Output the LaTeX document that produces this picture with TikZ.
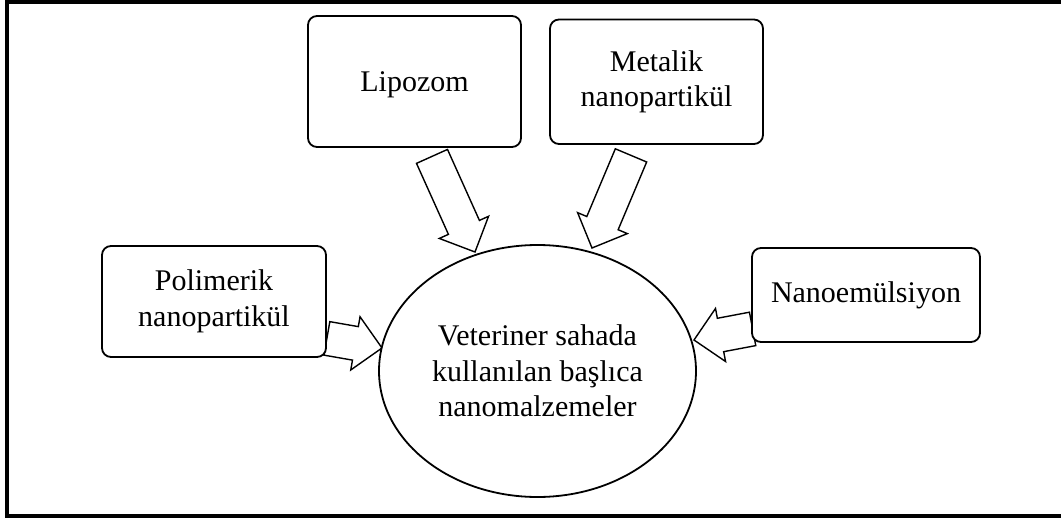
\documentclass[tikz,border=0pt]{standalone}
\usepackage{fontspec}
\setmainfont{Liberation Serif}
\usetikzlibrary{calc,shapes.geometric,backgrounds}
\newcommand\blockarr[2]{%
  \coordinate (T) at (#1);
  \coordinate (P) at (#2);
  \coordinate (H) at ($(P)!27pt!(T)$);
  \draw[barrow] ($(T)!17pt!90:(P)$) -- ($(H)!17pt!-90:(T)$) -- ($(H)!27pt!-90:(T)$) -- (P)
     -- ($(H)!27pt!90:(T)$) -- ($(H)!17pt!90:(T)$) -- ($(T)!17pt!-90:(P)$) -- cycle;
}
\begin{document}
\begin{tikzpicture}[x=1pt,y=-1pt,
  txt/.style={font=\fontsize{30}{35.5}\selectfont},
  box/.style={txt, draw, line width=1.8pt, rounded corners=9pt, fill=white, align=center, inner sep=0pt},
  oval/.style={txt, draw, ellipse, line width=1.8pt, fill=white, align=center, inner sep=0pt},
  barrow/.style={draw, line width=1.4pt, fill=white, line join=miter}]
\useasboundingbox (0,0) rectangle (1061,519);
\draw[line width=4.5pt] (7,2) rectangle (1075,516);

\node[box, minimum width=213pt, minimum height=131pt, text height=27pt, text depth=6.5pt] (lip) at (414.5,81.5) {Lipozom};
\node[box, minimum width=213pt, minimum height=124.5pt] (met) at (656.5,81.75) {Metalik\\nanopartikül};
\node[box, minimum width=224pt, minimum height=111pt] (pol) at (214,301.5) {Polimerik\\nanopartikül};
\node[box, minimum width=228pt, minimum height=94pt] (nano) at (866,295) {Nanoemülsiyon};
\node[oval, minimum width=317pt, minimum height=252pt] (c) at (537.5,371)
  {Veteriner sahada\\kullanılan başlıca\\nanomalzemeler};

\coordinate (lipT) at ($(lip.south)+(17.5,8.5)$);
\coordinate (lipP) at ($(c.center)+(-62.5,-119)$);
\coordinate (metT) at ($(met.south)+(-25.5,10.5)$);
\coordinate (metP) at ($(c.center)+(54.5,-123)$);
\coordinate (polT) at ($(pol.south east)+(0,-19.5)$);
\coordinate (polP) at ($(c.center)+(-155.5,-23)$);
\coordinate (nanoT) at ($(nano.south west)+(1.5,-14)$);
\coordinate (nanoP) at ($(c.center)+(156.5,-31)$);

\begin{pgfonlayer}{background}
\blockarr{lipT}{lipP}
\blockarr{metT}{metP}
\blockarr{polT}{polP}
\blockarr{nanoT}{nanoP}
\end{pgfonlayer}
\end{tikzpicture}
\end{document}
